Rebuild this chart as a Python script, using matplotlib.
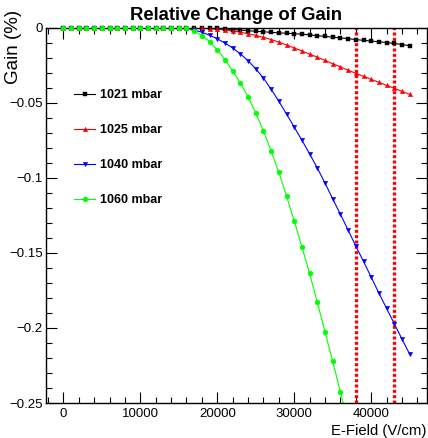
import matplotlib
matplotlib.use("Agg")
import matplotlib.pyplot as plt
from matplotlib.lines import Line2D
from matplotlib.ticker import MultipleLocator, FixedLocator, FuncFormatter

plt.rcParams['font.family'] = ['Liberation Sans', 'DejaVu Sans']

# Electric field grid (V/cm)
efield = list(range(0, 46000, 1000))

# Relative gain change (%) per gas pressure
gain_1021 = [0.0] * 20 + [
    -0.0004, -0.0008, -0.0012, -0.0016, -0.0020, -0.0024, -0.0027, -0.0031,
    -0.0034, -0.0037, -0.0040, -0.0043, -0.0048, -0.0053, -0.0058, -0.0063,
    -0.0068, -0.0073, -0.0079, -0.0084, -0.0089, -0.0094, -0.0099, -0.0105,
    -0.0112, -0.0120]
gain_1025 = [0.0] * 17 + [
    -0.0001, -0.0003, -0.0006, -0.0010, -0.0015, -0.0022, -0.0030, -0.0040,
    -0.0051, -0.0064, -0.0079, -0.0096, -0.0115, -0.0135, -0.0155, -0.0176,
    -0.0197, -0.0218, -0.0240, -0.0261, -0.0283, -0.0304, -0.0324, -0.0344,
    -0.0364, -0.0384, -0.0404, -0.0424, -0.0444]
gain_1040 = [0.0] * 16 + [
    -0.0006, -0.0016, -0.0030, -0.0050, -0.0074, -0.0102, -0.0135, -0.0174,
    -0.0220, -0.0274, -0.0336, -0.0410, -0.0490, -0.0575, -0.0662, -0.0750,
    -0.0840, -0.0935, -0.1035, -0.1140, -0.1243, -0.1348, -0.1455, -0.1557,
    -0.1662, -0.1768, -0.1870, -0.1972, -0.2074, -0.2175]
gain_1060 = [0.0] * 16 + [
    -0.0005, -0.0022, -0.0052, -0.0093, -0.0147, -0.0212, -0.0288, -0.0368,
    -0.0460, -0.0569, -0.0687, -0.0822, -0.0964, -0.1122, -0.1288, -0.1460,
    -0.1637, -0.1830, -0.2027, -0.2222, -0.2427, -0.2630]

labels = ["1021 mbar", "1025 mbar", "1040 mbar", "1060 mbar"]
cut_fields = [38000, 43000]

Y_MIN, Y_MAX = -0.25, 0.0

W, H = 428, 438
fig = plt.figure(figsize=(W / 100, H / 100), dpi=100)
ax = fig.add_axes([46 / W, 1 - 403 / H, 381 / W, (403 - 27.7) / H])

series = [
    (gain_1021, "black", "s", 3.0),
    (gain_1025, "#ff0000", "^", 3.2),
    (gain_1040, "#0000ff", "v", 3.2),
    (gain_1060, "#00ff00", "o", 3.6),
]
handles = []
for (vals, col, mk, ms), lab in zip(series, labels):
    xs = efield[:len(vals)]
    # connecting line, clipped to the frame
    ax.plot(xs, vals, color=col, lw=0.8)
    # markers inside the plotted range, drawn whole even on the frame edge
    pts = [(x, v) for x, v in zip(xs, vals) if Y_MIN <= v <= Y_MAX]
    ax.plot([p[0] for p in pts], [p[1] for p in pts], linestyle="none",
            marker=mk, markersize=ms, markeredgewidth=0.3,
            color=col, clip_on=False, zorder=3)
    handles.append(Line2D([], [], color=col, lw=0.8, marker=mk,
                          markersize=ms, markeredgewidth=0.3, label=lab))

for xc in cut_fields:
    ax.axvline(xc, color="#ff0000", lw=2.4, linestyle=(0, (0.9, 0.7)))

ax.set_xlim(-2250, 47250)
ax.set_ylim(Y_MIN, Y_MAX)

ax.xaxis.set_major_locator(FixedLocator([0, 10000, 20000, 30000, 40000]))
ax.xaxis.set_minor_locator(MultipleLocator(2000))
ax.yaxis.set_major_locator(MultipleLocator(0.05))
ax.yaxis.set_minor_locator(MultipleLocator(0.01))
ax.yaxis.set_major_formatter(FuncFormatter(
    lambda v, p: "0" if abs(v) < 1e-9 else ("%g" % v).replace("-", "\u2212")))
ax.tick_params(which="both", direction="in", top=True, right=True,
               width=0.8, labelsize=9.5)
ax.tick_params(which="major", length=8)
ax.tick_params(which="minor", length=4)
ax.tick_params(axis="y", pad=2.5)
ax.tick_params(axis="x", pad=3.5)
for sp in ax.spines.values():
    sp.set_linewidth(1.0)

fig.text(235.5 / W, 1 - 15 / H, "Relative Change of Gain", ha="center",
         va="center", fontsize=13.3, fontweight="bold")
fig.text(426 / W, 1 - 431 / H, "E-Field (V/cm)", ha="right", va="center",
         fontsize=10.7)
fig.text(14 / W, 1 - 10 / H, "Gain (%)", ha="center", va="top",
         rotation=90, fontsize=13.5)

ax.legend(handles=handles, loc="upper left",
          bbox_to_anchor=(74 / W, 1 - 89 / H),
          bbox_transform=fig.transFigure, frameon=False,
          prop={"weight": "bold", "size": 9}, handlelength=1.7,
          handletextpad=0.4, labelspacing=1.85, borderpad=0,
          borderaxespad=0)

fig.savefig("out.png", dpi=100)
